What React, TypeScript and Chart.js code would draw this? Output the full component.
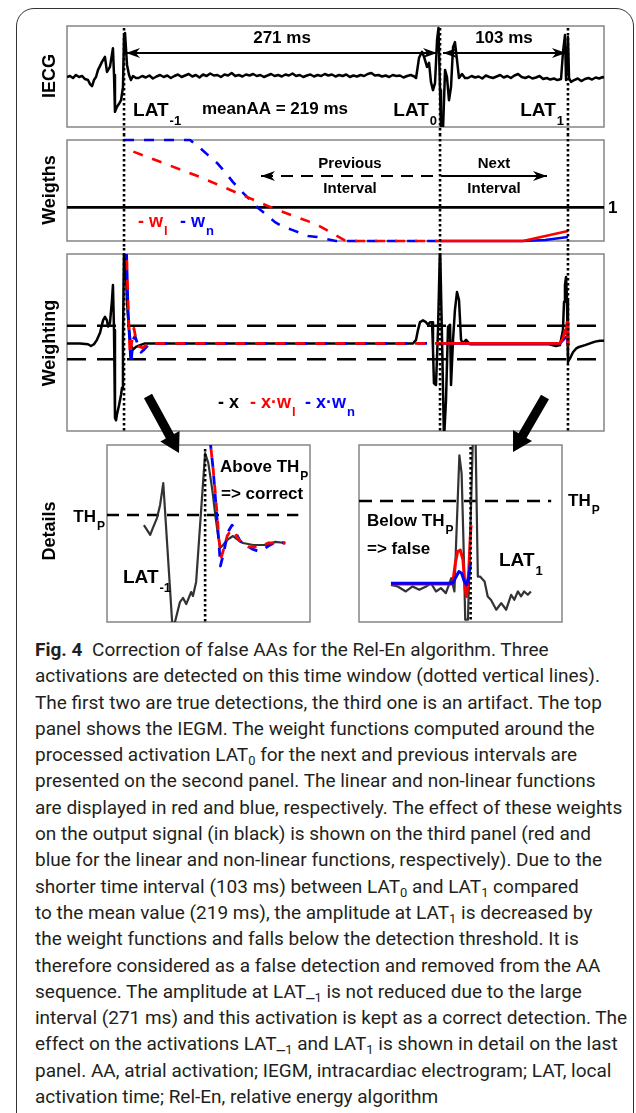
import React, { useEffect, useLayoutEffect, useRef } from "react";
import { Chart, registerables } from "chart.js";
Chart.register(...registerables);

const FONT = '"Liberation Sans", Arimo, Arial, sans-serif';
const W = 636;
const RED = "#ff0000";
const BLUE = "#0000ff";

// ---------- shared time axis (ms) ----------
const X_RANGE = [0, 450];
const LAT = [47.8, 312.6, 419.8]; // LAT-1, LAT0, LAT1

// ---------- Panel 1 : IECG ----------
const iecgT = [
  0, 2.5, 5.0, 7.5, 10.1, 12.6, 15.1, 17.6, 19.3, 21.0, 22.6, 24.3, 26.0, 27.7, 29.3, 31.8, 33.5, 36.0, 38.5, 39.4,
  40.2, 41.9, 43.6, 45.3, 46.9, 47.8, 48.6, 50.3, 52.0, 53.6, 55.3, 57.8,
  60, 63, 66, 69, 72, 75, 78, 81, 84, 87, 90, 93, 96, 99, 102, 105, 108, 111, 114, 117, 120, 123, 126, 129, 132, 135,
  138, 141, 144, 147, 150, 153, 156, 159, 162, 165, 168, 171, 174, 177, 180, 183, 186, 189, 192, 195, 198, 201, 204,
  207, 210, 213, 216, 219, 222, 225, 228, 231, 234, 237, 240, 243, 246, 249, 252, 255, 258, 261, 264, 267, 270, 273,
  276, 279, 282, 285, 288, 291,
  292.5, 295.0, 297.5, 299.2, 301.7, 303.4, 305.0, 306.7, 308.4, 310.1, 311.3, 312.6, 313.4, 315.1, 316.8, 318.4,
  320.1, 321.8, 323.5, 325.1, 326.8, 328.5, 331.0, 333.5,
  336, 339, 342, 345, 348, 351, 354, 357, 360, 363, 366, 369, 372, 375, 378, 381, 384, 387, 390, 393, 396, 399, 402,
  405, 408, 411, 414,
  415.6, 417.3, 418.2, 419.0, 419.8, 420.7, 422.4, 425, 428, 431, 434, 437, 440, 443, 446, 449, 450,
];
const iecgV = [
  -0.01, 0.01, -0.03, 0.03, -0.01, 0.01, -0.05, -0.07, -0.15, -0.19, -0.07, -0.01, 0.13, 0.21, 0.29, 0.39, 0.09, 0.19,
  0.56, 0.03, -0.7, -0.6, -0.54, -0.47, -0.21, 0.82, 0.86, 0.23, 0.03, -0.07, 0.01, -0.03,
  -0.03, 0.01, -0.02, 0.02, -0.04, 0.0, 0.03, -0.01, 0.02, -0.03, 0.01, 0.04, -0.01, 0.02, 0.05, 0.0, 0.03, -0.02,
  0.04, 0.01, 0.06, 0.02, 0.03, -0.01, 0.04, 0.02, 0.07, 0.01, 0.03, 0.0, 0.04, 0.02, 0.05, 0.01, 0.03, -0.01, 0.02,
  0.05, 0.01, 0.03, 0.0, 0.04, 0.02, 0.06, 0.01, 0.03, -0.01, 0.02, 0.04, 0.0, 0.03, 0.01, 0.05, 0.02, 0.04, 0.0,
  0.03, 0.01, 0.04, -0.01, 0.02, 0.0, 0.03, 0.01, 0.05, 0.07, 0.02, 0.03, 0.0, 0.02, -0.01, 0.03, 0.01, 0.02, -0.02,
  0.01, 0.03, 0.0,
  -0.03, 0.37, 0.49, 0.39, 0.19, 0.27, -0.11, -0.27, -0.13, 0.72, 0.96, -0.27, -1.05, -1.05, 0.13, -0.01, -0.47,
  -0.21, 0.58, 0.68, 0.33, -0.03, 0.05, -0.03,
  -0.03, 0.01, -0.02, 0.0, -0.04, 0.02, -0.01, -0.03, 0.0, 0.03, -0.02, 0.01, -0.03, 0.02, 0.05, -0.01, -0.03, 0.0,
  -0.04, -0.02, 0.01, -0.05, -0.03, -0.06, -0.04, -0.07, -0.05,
  0.47, 0.82, -0.07, 0.58, 0.78, -0.03, -0.11, -0.07, -0.04, -0.09, -0.05, -0.03, -0.06, -0.02, -0.04, -0.01, -0.03,
];
const IECG_Y = [-1, 1];

// ---------- Panel 2 : weights ----------
const wlT = [47.8, 111.5, 174.3, 208.7, 233.8, 312.6, 382.1, 419.8];
const wlV = [2.76, 1.9, 0.95, 0.5, 0, 0, 0, 0.3];
const wnT = [47.8, 103.1, 111.5, 118.2, 125.7, 132.4, 139.1, 146.7, 153.4, 160.1, 167.6, 174.3, 181.0, 188.6, 195.3,
  202.0, 209.5, 217.0, 225.4, 312.6, 382.1, 400.6, 419.8];
const wnV = [3.0, 3.0, 2.76, 2.55, 2.32, 2.05, 1.75, 1.46, 1.22, 0.98, 0.77, 0.56, 0.42, 0.33, 0.24, 0.15, 0.12, 0.06,
  0, 0, 0, 0.03, 0.12];
const unitT = [0, 450];
const unitV = [1, 1];
const WEIGHT_Y = [0, 3];

// ---------- Panel 3 : weighting ----------
const xT = [0, 10.9, 17.6, 20.1, 22.6, 25.1, 27.7, 30.2, 31.8, 33.5, 34.4, 36.0, 37.7, 38.5, 39.4, 40.2, 41.1, 41.9,
  43.6, 45.3, 46.1, 46.9, 47.8, 48.6, 49.4, 50.3, 52.0, 53.6, 55.3, 57.8, 61.2, 65.4, 290.0, 292.5, 294.1, 295.8,
  298.3, 300.8, 302.5, 304.2, 305.9, 306.7, 307.5, 309.2, 310.9, 312.6, 314.3, 315.9, 317.6, 319.3, 321.0, 321.8,
  323.5, 325.1, 326.8, 328.5, 330.2, 331.8, 334.4, 337.7, 404.0, 409.8, 413.1, 415.6, 416.5, 417.3, 418.2, 419.0,
  419.8, 421.5, 424.0, 426.5, 429.0, 434.1, 438.3, 442.5, 446.7, 450];
const xV = [-0.01, -0.01, -0.02, -0.04, -0.02, 0.03, 0.11, 0.25, 0.29, 0.25, 0.18, 0.22, 0.48, 0.65, 0.14, -0.85,
  -0.88, -0.81, -0.71, -0.59, -0.51, 0.03, 1.1, 1.16, 0.82, 0.45, 0.14, -0.03, -0.08, -0.05, -0.03, -0.01, -0.01,
  0.03, 0.14, 0.23, 0.25, 0.23, 0.2, 0.23, 0.23, -0.08, -0.46, -0.48, 0.14, 1.1, 0.03, -1.1, -0.65, 0.18, 0.2, -0.48,
  0.03, 0.37, 0.57, 0.48, 0.03, -0.01, 0.03, -0.02, -0.02, -0.04, -0.03, 0.14, 0.46, 0.65, 0.74, 0.48, -0.22, -0.18,
  -0.11, -0.07, -0.05, -0.03, -0.01, 0.01, 0.02, 0.02];
const xwlT = [49.4, 51.1, 52.8, 54.5, 56.1, 58.7, 61.2, 63.7, 67.0, 69.6, 73.7, 312.6, 413.1, 415.6, 417.3, 418.2,
  419.0, 419.8, 420.7];
const xwlV = [1.27, 0.48, -0.14, 0.03, 0.16, -0.03, -0.05, -0.06, -0.02, 0.01, -0.01, -0.01, -0.01, 0.05, 0.14, 0.1,
  0.23, -0.03, -0.01];
const xwnT = [49.4, 51.1, 53.6, 55.3, 57.0, 59.5, 62.0, 64.5, 67.9, 71.2, 312.6, 413.1, 417.3, 419.0, 419.8, 420.7];
const xwnV = [1.27, 0.37, -0.25, 0.03, 0.07, -0.03, -0.11, -0.08, -0.03, -0.01, -0.01, -0.01, 0.05, 0.07, -0.02,
  -0.01];
const TH = 0.19;
const WEIGHTING_Y = [-1, 1];

// ---------- Details (amplitudes relative to TH_P = 1) ----------
const DL_X = [26, 71.1];
const DL_Y = [-2.82, 3.5];
const dlT = [34.2, 35.6, 36.2, 37.1, 37.8, 38.5, 40.5, 41.1, 42.2, 42.9, 43.6, 44.7, 45.1, 45.8, 47.8, 48.5, 49.4,
  50.2, 51.1, 51.8, 52.7, 54.0, 55.1, 56.2, 58.5, 61.6, 63.4, 65.6];
const dlV = [0.64, 0.29, 0.54, 0.89, 1.36, 2.14, -2.89, -2.82, -2.11, -1.96, -2.18, -1.75, -1.89, -1.39, 3.21, 2.86,
  1.89, 0.82, -0.18, -0.07, 0.11, 0.25, 0.11, 0, -0.07, -0.07, 0.04, 0];
const dlRedT = [48.9, 49.6, 50.2, 50.9, 51.4, 52.0, 52.7, 53.4, 54.0, 54.9, 56.0, 57.4, 58.9, 60.5, 61.8, 63.6, 65.6];
const dlRedV = [3.68, 2.61, 1.54, 0.11, -0.5, -0.18, 0.25, 0.43, 0.46, 0.21, -0.04, -0.14, -0.14, -0.11, 0, 0, 0];
const dlBlueT = [48.9, 49.6, 50.2, 50.9, 51.2, 51.8, 52.5, 53.1, 53.8, 54.5, 55.6, 56.9, 58.2, 59.6, 60.9, 62.2,
  63.8, 65.6];
const dlBlueV = [3.68, 2.61, 1.36, -0.07, -0.82, -0.43, 0.11, 0.46, 0.64, 0.39, 0.07, -0.07, -0.21, -0.29, -0.21,
  -0.07, 0.04, 0];
const dlThT = [26, 68.5];

const DR_X = [395, 440.1];
const DR_Y = [-0.458, 1.675];
const drT = [402.1, 403.6, 405.4, 406.9, 408.4, 409.9, 411.0, 412.1, 413.2, 414.3, 415.5, 416.2, 416.6, 417.3, 417.8,
  418.2, 418.6, 419.2, 420.3, 420.9, 421.4, 421.9, 422.9, 423.6, 424.3, 425.5, 426.6, 427.7, 428.8, 429.5, 430.3,
  431.0, 431.7, 432.5, 433.2];
const drV = [-0.01, -0.03, -0.09, -0.03, -0.07, -0.03, 0.01, -0.09, -0.05, -0.11, 0.07, -0.09, 0.53, 1.55, 1.33,
  0.53, -0.43, -0.43, 1.75, 1.75, 0.09, 0.09, 0.03, -0.15, -0.19, -0.31, -0.23, -0.31, -0.13, -0.19, -0.09, -0.15,
  -0.09, -0.13, -0.09];
const drRedT = [402.1, 415.8, 416.4, 416.9, 417.5, 418.1, 418.6, 418.9, 419.4, 419.8, 419.9];
const drRedV = [0, 0, 0.25, 0.39, 0.41, 0.29, -0.07, -0.15, 0.17, 0.65, 0.71];
const drBlueT = [402.1, 415.8, 416.6, 417.2, 417.8, 418.4, 418.9, 419.4, 419.8];
const drBlueV = [0.01, 0.01, 0.09, 0.15, 0.13, 0.03, -0.01, 0.09, 0.27];
const drThT = [395, 437.7];

// ---------- layout ----------
const P1_TOP = 14, P1_H = 120;
const P2_TOP = 134, P2_H = 114;
const P3_TOP = 248, P3_H = 190;
const D_TOP = 380, D_H = 252;

// ---------- helpers ----------
const pts = (t: number[], v: number[]) => t.map((x, i) => ({ x, y: v[i] }));
const flat = (t: number[], val: number) => t.map((x) => ({ x, y: val }));

function line(data: any[], color: string, width: number, extra: any = {}) {
  return { data, borderColor: color, borderWidth: width, pointRadius: 0, fill: false, tension: 0, ...extra };
}

function txt(ctx: any, s: string, x: number, y: number, size: number, color = "#000", align = "left") {
  ctx.save();
  ctx.font = `bold ${size}px ${FONT}`;
  ctx.fillStyle = color;
  ctx.textAlign = align;
  ctx.textBaseline = "alphabetic";
  ctx.fillText(s, x, y);
  ctx.restore();
}

function subTxt(ctx: any, main: string, sub: string, x: number, y: number, size: number, subSize: number,
  color = "#000", align = "left") {
  ctx.save();
  ctx.font = `bold ${size}px ${FONT}`;
  const w1 = ctx.measureText(main).width;
  ctx.font = `bold ${subSize}px ${FONT}`;
  const w2 = ctx.measureText(sub).width;
  const x0 = align === "right" ? x - w1 - w2 - 1 : x;
  ctx.fillStyle = color;
  ctx.textAlign = "left";
  ctx.textBaseline = "alphabetic";
  ctx.font = `bold ${size}px ${FONT}`;
  ctx.fillText(main, x0, y);
  ctx.font = `bold ${subSize}px ${FONT}`;
  ctx.fillText(sub, x0 + w1 + 1, y + size * 0.45);
  ctx.restore();
}

function vtitle(ctx: any, s: string, cx: number, cy: number) {
  ctx.save();
  ctx.translate(cx, cy);
  ctx.rotate(-Math.PI / 2);
  ctx.font = `bold 18px ${FONT}`;
  ctx.fillStyle = "#000";
  ctx.textAlign = "center";
  ctx.textBaseline = "middle";
  ctx.fillText(s, 0, 0);
  ctx.restore();
}

function box(ctx: any, a: any) {
  ctx.save();
  ctx.strokeStyle = "#858585";
  ctx.lineWidth = 1.5;
  ctx.strokeRect(a.left, a.top, a.right - a.left, a.bottom - a.top);
  ctx.restore();
}

function dotted(ctx: any, x: number, y0: number, y1: number) {
  ctx.save();
  ctx.strokeStyle = "#000";
  ctx.lineWidth = 2.6;
  ctx.setLineDash([2.4, 2.6]);
  ctx.beginPath();
  ctx.moveTo(x, y0);
  ctx.lineTo(x, y1);
  ctx.stroke();
  ctx.restore();
}

function head(ctx: any, tx: number, ty: number, dx: number, dy: number, len: number, half: number) {
  const n = Math.hypot(dx, dy);
  const ux = dx / n, uy = dy / n;
  const bx = tx - ux * len, by = ty - uy * len;
  const nx = bx + ux * len * 0.3, ny = by + uy * len * 0.3;
  ctx.beginPath();
  ctx.moveTo(tx, ty);
  ctx.lineTo(bx - uy * half, by + ux * half);
  ctx.lineTo(nx, ny);
  ctx.lineTo(bx + uy * half, by - ux * half);
  ctx.closePath();
  ctx.fill();
}

function hArrow(ctx: any, x1: number, x2: number, y: number, heads: string, dash: number[] = []) {
  ctx.save();
  ctx.strokeStyle = "#000";
  ctx.fillStyle = "#000";
  ctx.lineWidth = 2;
  ctx.setLineDash(dash);
  ctx.beginPath();
  ctx.moveTo(x1, y);
  ctx.lineTo(x2, y);
  ctx.stroke();
  ctx.setLineDash([]);
  if (heads === "both" || heads === "left") head(ctx, Math.min(x1, x2), y, -1, 0, 14, 5);
  if (heads === "both" || heads === "right") head(ctx, Math.max(x1, x2), y, 1, 0, 14, 5);
  ctx.restore();
}

function bigArrow(ctx: any, sx: number, sy: number, tx: number, ty: number) {
  const dx = tx - sx, dy = ty - sy;
  const n = Math.hypot(dx, dy);
  const ux = dx / n, uy = dy / n;
  const px = -uy, py = ux;
  const hl = 19, hw = 11, sw = 4.6;
  const bx = tx - ux * hl, by = ty - uy * hl;
  ctx.save();
  ctx.fillStyle = "#000";
  ctx.beginPath();
  ctx.moveTo(sx + px * sw, sy + py * sw);
  ctx.lineTo(bx + px * sw, by + py * sw);
  ctx.lineTo(bx + px * hw, by + py * hw);
  ctx.lineTo(tx, ty);
  ctx.lineTo(bx - px * hw, by - py * hw);
  ctx.lineTo(bx - px * sw, by - py * sw);
  ctx.lineTo(sx - px * sw, sy - py * sw);
  ctx.closePath();
  ctx.fill();
  ctx.restore();
}

function config(datasets: any[], padding: any, xr: number[], yr: number[], plugin: any) {
  return {
    type: "line",
    data: { datasets },
    options: {
      responsive: false,
      animation: false,
      events: [],
      layout: { padding },
      plugins: { legend: { display: false }, tooltip: { enabled: false }, title: { display: false } },
      scales: {
        x: { type: "linear", min: xr[0], max: xr[1], display: false },
        y: { type: "linear", min: yr[0], max: yr[1], display: false },
      },
      elements: { point: { radius: 0 }, line: { tension: 0, borderJoinStyle: "round" } },
    },
    plugins: [plugin],
  };
}

const prevDash = (dash: number[]) => (c: any) => (c.p0.parsed.x < LAT[1] - 0.05 ? dash : undefined);

// ---------- chart builders ----------
function buildIECG() {
  const plugin = {
    id: "iecgDeco",
    beforeDatasetsDraw(chart: any) { box(chart.ctx, chart.chartArea); },
    afterDatasetsDraw(chart: any) {
      const { ctx, chartArea: a } = chart;
      const o = P1_TOP;
      const px = LAT.map((t) => chart.scales.x.getPixelForValue(t));
      px.forEach((p) => dotted(ctx, p, a.top + 2, chart.height));
      hArrow(ctx, px[0] + 2, px[1] - 3, 53 - o, "both");
      hArrow(ctx, px[1] + 3, px[2] - 2, 53 - o, "both");
      txt(ctx, "271 ms", (px[0] + px[1]) / 2, 43 - o, 17, "#000", "center");
      txt(ctx, "103 ms", (px[1] + px[2]) / 2, 43 - o, 17, "#000", "center");
      subTxt(ctx, "LAT", "-1", px[0] + 9, 116 - o, 19, 13);
      txt(ctx, "meanAA = 219 ms", 202, 114 - o, 17);
      subTxt(ctx, "LAT", "0", px[1] - 3, 116 - o, 19, 13, "#000", "right");
      subTxt(ctx, "LAT", "1", px[2] - 4, 116 - o, 19, 13, "#000", "right");
      vtitle(ctx, "IECG", 50, 76 - o);
    },
  };
  return config([line(pts(iecgT, iecgV), "#000", 2.5)], { left: 67, right: 32, top: 12, bottom: 7 },
    X_RANGE, IECG_Y, plugin);
}

function buildWeights() {
  const plugin = {
    id: "weightsDeco",
    beforeDatasetsDraw(chart: any) { box(chart.ctx, chart.chartArea); },
    afterDatasetsDraw(chart: any) {
      const { ctx, chartArea: a } = chart;
      const o = P2_TOP;
      const px = LAT.map((t) => chart.scales.x.getPixelForValue(t));
      px.forEach((p) => dotted(ctx, p, 0, chart.height));
      txt(ctx, "1", a.right + 4, 213 - o, 17);
      txt(ctx, "Previous", px[1] - 90, 168 - o, 15, "#000", "center");
      txt(ctx, "Interval", px[1] - 90, 193 - o, 15, "#000", "center");
      txt(ctx, "Next", px[1] + 54, 168 - o, 15, "#000", "center");
      txt(ctx, "Interval", px[1] + 54, 193 - o, 15, "#000", "center");
      hArrow(ctx, 261, px[1] - 2, 176 - o, "left", [12, 8]);
      hArrow(ctx, px[1] + 1, 547, 176 - o, "right");
      subTxt(ctx, "- w", "l", 138, 227 - o, 18, 13, RED);
      subTxt(ctx, "- w", "n", 180, 227 - o, 18, 13, BLUE);
      vtitle(ctx, "Weigths", 50, 190 - o);
    },
  };
  const ds = [
    line(pts(wlT, wlV), RED, 2.6, { borderDashOffset: 10, segment: { borderDash: prevDash([10, 10]) }, clip: 3 }),
    line(pts(wnT, wnV), BLUE, 2.6, { segment: { borderDash: prevDash([10, 10]) }, clip: 3 }),
    line(pts(unitT, unitV), "#000", 2.6, { clip: 3 }),
  ];
  return config(ds, { left: 67, right: 32, top: 6, bottom: 7 }, X_RANGE, WEIGHT_Y, plugin);
}

function buildWeighting() {
  const plugin = {
    id: "weightingDeco",
    beforeDatasetsDraw(chart: any) { box(chart.ctx, chart.chartArea); },
    afterDatasetsDraw(chart: any) {
      const { ctx, chartArea: a } = chart;
      const o = P3_TOP;
      const px = LAT.map((t) => chart.scales.x.getPixelForValue(t));
      px.forEach((p) => dotted(ctx, p, 0, a.bottom));
      txt(ctx, "- x", 218, 408 - o, 18);
      subTxt(ctx, "- x\u00b7w", "l", 250, 408 - o, 18, 13, RED);
      subTxt(ctx, "- x\u00b7w", "n", 305, 408 - o, 18, 13, BLUE);
      vtitle(ctx, "Weighting", 50, 343 - o);
    },
  };
  const ds = [
    line(pts(xwlT, xwlV), RED, 2.8, { borderDashOffset: 10, segment: { borderDash: prevDash([10, 10]) } }),
    line(pts(xwnT, xwnV), BLUE, 2.8, { segment: { borderDash: prevDash([10, 10]) } }),
    line(pts(xT, xV), "#000", 2.5),
    line(flat(X_RANGE, TH), "#000", 2.5, { borderDash: [19, 11] }),
    line(flat(X_RANGE, -TH), "#000", 2.5, { borderDash: [19, 11] }),
  ];
  return config(ds, { left: 67, right: 32, top: 6, bottom: 7 }, X_RANGE, WEIGHTING_Y, plugin);
}

function buildDetailLeft() {
  const plugin = {
    id: "dlDeco",
    beforeDatasetsDraw(chart: any) { box(chart.ctx, chart.chartArea); },
    afterDatasetsDraw(chart: any) {
      const { ctx, chartArea: a } = chart;
      const o = D_TOP;
      const p = chart.scales.x.getPixelForValue(LAT[0]);
      dotted(ctx, p, a.top + 4, a.bottom);
      subTxt(ctx, "TH", "P", a.left - 2, 522 - o, 17, 12, "#000", "right");
      subTxt(ctx, "Above TH", "P", 220, 472 - o, 17, 12);
      txt(ctx, "=> correct", 221, 499 - o, 17);
      subTxt(ctx, "LAT", "-1", 123, 583 - o, 19, 13);
      vtitle(ctx, "Details", 50, 531 - o);
      bigArrow(ctx, 148, 396 - o, 179, 453 - o);
    },
  };
  const ds = [
    line(pts(dlRedT, dlRedV), RED, 2.8, { borderDash: [9, 9], borderDashOffset: 9 }),
    line(pts(dlBlueT, dlBlueV), BLUE, 2.8, { borderDash: [9, 9] }),
    line(pts(dlT, dlV), "#333", 2.2),
    line(flat(dlThT, 1), "#000", 2.5, { borderDash: [12, 8] }),
  ];
  return config(ds, { left: 107, right: W - 310, top: 65, bottom: 10 }, DL_X, DL_Y, plugin);
}

function buildDetailRight() {
  const plugin = {
    id: "drDeco",
    beforeDatasetsDraw(chart: any) { box(chart.ctx, chart.chartArea); },
    afterDatasetsDraw(chart: any) {
      const { ctx, chartArea: a } = chart;
      const o = D_TOP;
      const p = chart.scales.x.getPixelForValue(LAT[2]);
      dotted(ctx, p, a.top + 2, a.bottom);
      subTxt(ctx, "TH", "P", 568, 506 - o, 17, 12);
      subTxt(ctx, "Below TH", "P", 367, 526 - o, 17, 12);
      txt(ctx, "=> false", 367, 554 - o, 17);
      subTxt(ctx, "LAT", "1", 499, 566 - o, 19, 13);
      bigArrow(ctx, 545, 397 - o, 513, 452 - o);
    },
  };
  const ds = [
    line(pts(drBlueT, drBlueV), BLUE, 3),
    line(pts(drRedT, drRedV), RED, 3),
    line(pts(drT, drV), "#333", 2.2),
    line(flat(drThT, 1), "#000", 2.5, { borderDash: [13, 8] }),
  ];
  return config(ds, { left: 359, right: W - 562, top: 65, bottom: 10 }, DR_X, DR_Y, plugin);
}

function ChartCanvas({ top, height, build }: { top: number; height: number; build: () => any }) {
  const ref = useRef<HTMLCanvasElement | null>(null);
  useEffect(() => {
    if (!ref.current) return;
    const chart = new Chart(ref.current, build() as any);
    return () => chart.destroy();
  }, []);
  return (
    <canvas ref={ref} width={W} height={height}
      style={{ position: "absolute", left: 0, top, width: W, height, display: "block" }} />
  );
}

// ---------- caption ----------
const S = ({ children }: { children: any }) => (
  <sub style={{ fontSize: "0.68em", verticalAlign: "-0.32em", lineHeight: 0 }}>{children}</sub>
);

const captionLines: any[] = [
  <><b>Fig. 4</b>{"\u2002"}Correction of false AAs for the Rel-En algorithm. Three</>,
  <>activations are detected on this time window (dotted vertical lines).</>,
  <>The first two are true detections, the third one is an artifact. The top</>,
  <>panel shows the IEGM. The weight functions computed around the</>,
  <>processed activation LAT<S>0</S> for the next and previous intervals are</>,
  <>presented on the second panel. The linear and non-linear functions</>,
  <>are displayed in red and blue, respectively. The effect of these weights</>,
  <>on the output signal (in black) is shown on the third panel (red and</>,
  <>blue for the linear and non-linear functions, respectively). Due to the</>,
  <>shorter time interval (103 ms) between LAT<S>0</S> and LAT<S>1</S> compared</>,
  <>to the mean value (219 ms), the amplitude at LAT<S>1</S> is decreased by</>,
  <>the weight functions and falls below the detection threshold. It is</>,
  <>therefore considered as a false detection and removed from the AA</>,
  <>sequence. The amplitude at LAT_<S>1</S> is not reduced due to the large</>,
  <>interval (271 ms) and this activation is kept as a correct detection. The</>,
  <>effect on the activations LAT_<S>1</S> and LAT<S>1</S> is shown in detail on the last</>,
  <>panel. AA, atrial activation; IEGM, intracardiac electrogram; LAT, local</>,
  <>activation time; Rel-En, relative energy algorithm</>,
];

export default function App() {
  const capRef = useRef<HTMLDivElement | null>(null);
  const measureRef = useRef<HTMLSpanElement | null>(null);
  useLayoutEffect(() => {
    const el = measureRef.current;
    const cap = capRef.current;
    if (el && cap) {
      const w = el.getBoundingClientRect().width;
      if (w > 0) cap.style.transform = `scaleX(${565 / w})`;
    }
  }, []);
  return (
    <div style={{ position: "absolute", left: 0, top: 0, width: W, height: 1113, overflow: "hidden", background: "#fff" }}>
      <div style={{ position: "absolute", left: 16, top: 8, width: 618, height: 1300, border: "1.5px solid #333",
        borderRadius: 18, boxSizing: "border-box" }} />
      <ChartCanvas top={P1_TOP} height={P1_H} build={buildIECG} />
      <ChartCanvas top={P2_TOP} height={P2_H} build={buildWeights} />
      <ChartCanvas top={P3_TOP} height={P3_H} build={buildWeighting} />
      <ChartCanvas top={D_TOP} height={D_H} build={buildDetailLeft} />
      <ChartCanvas top={D_TOP} height={D_H} build={buildDetailRight} />
      <div ref={capRef} style={{ position: "absolute", left: 35, top: 637, transformOrigin: "0 0",
        fontFamily: "Roboto, 'Noto Sans', sans-serif", fontSize: 19, color: "#231f20", lineHeight: "26.3px",
        whiteSpace: "nowrap" }}>
        {captionLines.map((l, i) => (
          <div key={i} style={{ height: 26.3 }}>
            <span ref={i === 1 ? measureRef : undefined} style={{ display: "inline-block" }}>{l}</span>
          </div>
        ))}
      </div>
    </div>
  );
}
